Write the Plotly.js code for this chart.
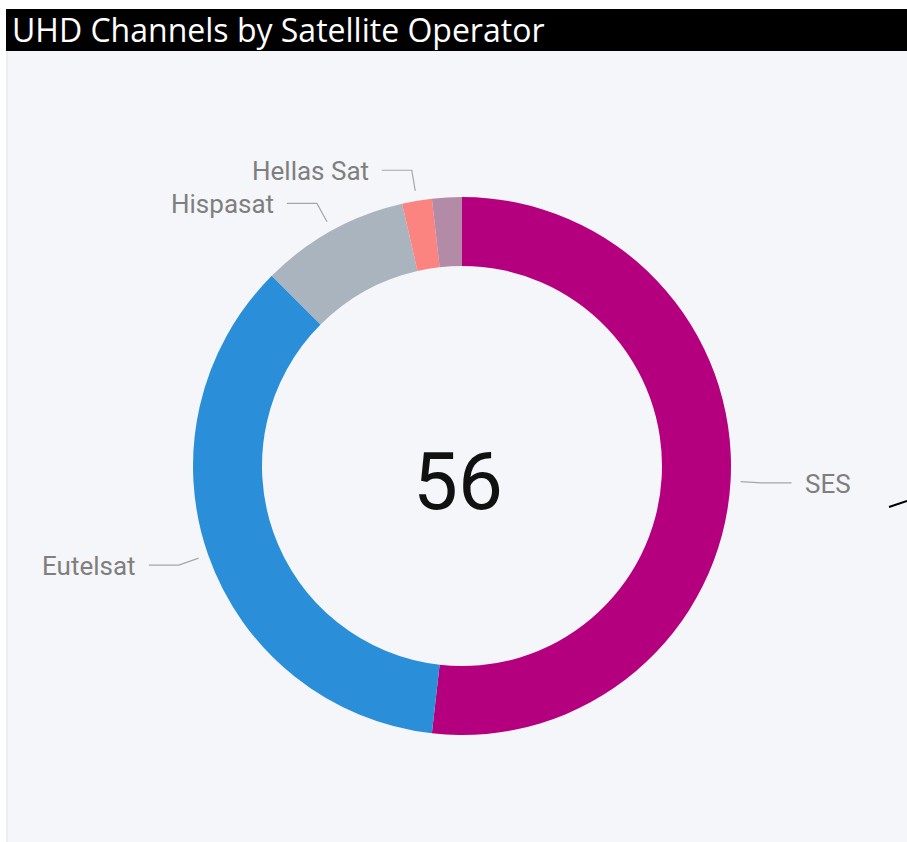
<!DOCTYPE html>
<html>
<head>
<meta charset="utf-8">
<script src="https://cdn.plot.ly/plotly-3.0.1.min.js"></script>
<style>html,body{margin:0;padding:0;background:#fff;}#chart{width:907px;height:842px;}</style>
</head>
<body>
<div id="chart"></div>
<script>
// ---- data ----
var operators = ["SES", "Eutelsat", "Hispasat", "Hellas Sat", "Other"];
var channels = [29, 20, 5, 1, 1];
var showLabel = [true, true, true, true, false];
var sliceColors = ["#B4007E", "#2A8FD8", "#A9B4BF", "#FC8480", "#B38BA7"];
var chartTitle = "UHD Channels by Satellite Operator";

// ---- layout geometry (pixels) ----
var W = 907, H = 842;
var cx = 462, cy = 466, R = 269;
var hole = 200 / R;
function px(x) { return x / W; }
function py(y) { return 1 - y / H; }

var total = channels.reduce(function (a, b) { return a + b; }, 0);

var shapes = [
  // card background
  {type: "rect", xref: "paper", yref: "paper", x0: px(6), x1: 1, y0: 0, y1: py(51),
   fillcolor: "#F5F6F9", line: {width: 0}, layer: "below"},
  {type: "line", xref: "paper", yref: "paper", x0: px(7), x1: px(7), y0: 0, y1: py(51),
   line: {color: "#E4E6EA", width: 1}, layer: "below"},
  // title bar
  {type: "rect", xref: "paper", yref: "paper", x0: px(6), x1: 1, y0: py(51), y1: py(9),
   fillcolor: "#000000", line: {width: 0}, layer: "below"},
  // stray connector at right edge
  {type: "line", xref: "paper", yref: "paper", x0: px(889), x1: px(907), y0: py(507), y1: py(501),
   line: {color: "#000000", width: 2}, layer: "above"}
];

var annotations = [];
// leader lines and labels, computed from the slice angles
var cum = 0;
for (var i = 0; i < channels.length; i++) {
  var mid = (cum + channels[i] / 2) / total * 2 * Math.PI; // clockwise from 12 o'clock
  cum += channels[i];
  if (!showLabel[i]) continue;
  var s = Math.sin(mid), c = Math.cos(mid);
  var x1 = cx + 279 * s, y1 = cy - 279 * c;
  var x2 = cx + 300 * s, y2 = cy - 300 * c;
  var dir = s >= 0 ? 1 : -1;
  var x3 = x2 + dir * 30;
  shapes.push({type: "path", xref: "paper", yref: "paper",
    path: "M" + px(x1) + "," + py(y1) + " L" + px(x2) + "," + py(y2) + " L" + px(x3) + "," + py(y2),
    line: {color: "#A6A6A6", width: 1.2}, layer: "above"});
  annotations.push({xref: "paper", yref: "paper", x: px(x3 + dir * 11), y: py(y2 + 1),
    xanchor: dir > 0 ? "left" : "right", yanchor: "middle", showarrow: false,
    text: operators[i], font: {family: "Roboto, 'DejaVu Sans', sans-serif", size: 26, color: "#7F7F7F"}});
}
// total in the centre
annotations.push({xref: "paper", yref: "paper", x: px(cx - 4), y: py(cy + 16),
  xanchor: "center", yanchor: "middle", showarrow: false,
  text: String(total), font: {family: "Roboto, 'DejaVu Sans', sans-serif", size: 80, color: "#111111"}});

var trace = {
  type: "pie",
  labels: operators,
  values: channels,
  hole: hole,
  sort: false,
  direction: "clockwise",
  rotation: 0,
  textinfo: "none",
  marker: {colors: sliceColors, line: {width: 0}},
  domain: {x: [px(cx - R), px(cx + R)], y: [py(cy + R), py(cy - R)]},
  hoverinfo: "label+value"
};

var layout = {
  width: W, height: H,
  margin: {l: 0, r: 0, t: 0, b: 0},
  paper_bgcolor: "#FFFFFF",
  showlegend: false,
  title: {text: chartTitle, x: px(12), xanchor: "left", xref: "paper",
          y: py(31), yanchor: "middle", yref: "paper",
          font: {family: "'Open Sans', 'Noto Sans', sans-serif", size: 32, color: "#FFFFFF"}},
  shapes: shapes,
  annotations: annotations
};

Plotly.newPlot("chart", [trace], layout, {displayModeBar: false, staticPlot: true});
</script>
</body>
</html>
